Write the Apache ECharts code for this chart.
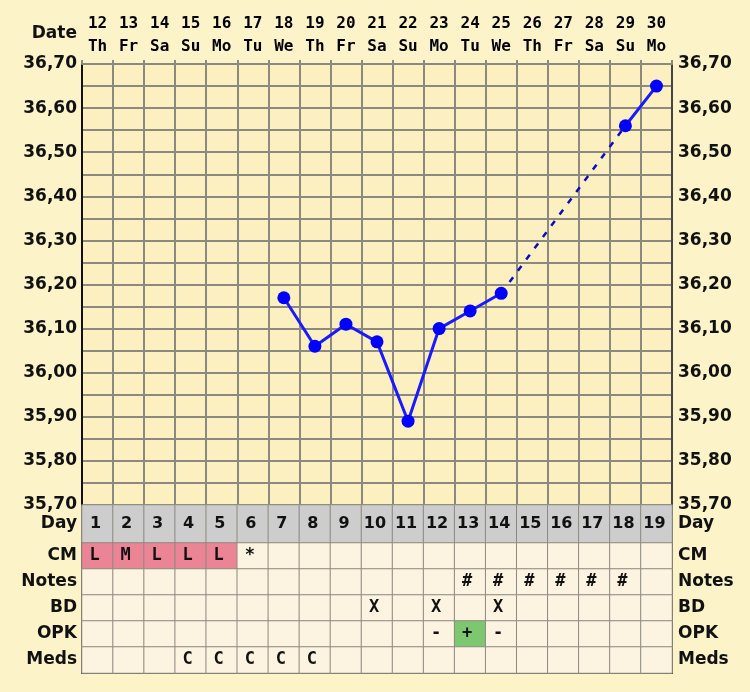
<!DOCTYPE html>
<html>
<head>
<meta charset="utf-8">
<script src="https://cdn.jsdelivr.net/npm/echarts@6/dist/echarts.min.js"></script>
<style>
html,body{margin:0;padding:0;background:#fcf3c9;}
#chart{width:750px;height:692px;}
</style>
</head>
<body>
<div id="chart"></div>
<script>
// ---- data ----
const dates = ['12','13','14','15','16','17','18','19','20','21','22','23','24','25','26','27','28','29','30'];
const weekdays = ['Th','Fr','Sa','Su','Mo','Tu','We','Th','Fr','Sa','Su','Mo','Tu','We','Th','Fr','Sa','Su','Mo'];
const cycleDays = ['1','2','3','4','5','6','7','8','9','10','11','12','13','14','15','16','17','18','19'];
const temps = [null,null,null,null,null,null,36.17,36.06,36.11,36.07,35.89,36.10,36.14,36.18,null,null,null,36.56,36.65];
const gapTemps = [null,null,null,null,null,null,null,null,null,null,null,null,null,36.18,null,null,null,36.56,null];
const yTicks = ['35,70','35,80','35,90','36,00','36,10','36,20','36,30','36,40','36,50','36,60','36,70'];
const rowNames = ['CM','Notes','BD','OPK','Meds'];
const cmRow    = ['L','M','L','L','L','*','','','','','','','','','','','','',''];
const notesRow = ['','','','','','','','','','','','','#','#','#','#','#','#',''];
const bdRow    = ['','','','','','','','','','X','','X','','X','','','','',''];
const opkRow   = ['','','','','','','','','','','','-','+','-','','','','',''];
const medsRow  = ['','','','C','C','C','C','C','','','','','','','','','','',''];
const cmFill   = ['pink','pink','pink','pink','pink','','','','','','','','','','','','','',''];
const opkFill  = ['','','','','','','','','','','','','green','','','','','',''];

// ---- build ----
const rows = [cmRow, notesRow, bdRow, opkRow, medsRow];
const fills = [cmFill, null, null, opkFill, null];
const fillColors = {pink:'#eb8494', green:'#7cc770', '':'#fdf3e1'};
const tableData = [];
rows.forEach((r, ri) => {
  r.forEach((t, ci) => {
    const f = fills[ri] ? fills[ri][ci] : '';
    tableData.push({value:[ci, ri, 1], itemStyle:{color: fillColors[f]}});
  });
});
const dayData = cycleDays.map((d, i) => ({value:[i, 0, 1], itemStyle:{color:'#cdcdcd'}}));

const gridLine = '#8c8a80';
const bold17 = {fontFamily:'DejaVu Sans', fontWeight:'bold', fontSize:17, color:'#111'};
const L = 82, R = 78;

const chart = echarts.init(document.getElementById('chart'));
chart.setOption({
  backgroundColor:'#fcf3c9',
  animation:false,
  graphic:[{type:'text', x:77, y:34, style:{text:'Date', fill:'#111', font:'bold 17px "DejaVu Sans"', align:'right', verticalAlign:'middle'}}],
  grid:[
    {left:L, right:R, top:64, height:441, show:true, backgroundColor:'#fcf0c1', borderWidth:0},
    {left:L, right:R, top:505, height:38, show:true, backgroundColor:'#cdcdcd', borderColor:'#555', borderWidth:2},
    {left:L, right:R, top:543, height:130, show:true, backgroundColor:'#fdf3e1', borderColor:'#333', borderWidth:2}
  ],
  xAxis:[
    {gridIndex:0, type:'category', position:'top', data:dates, boundaryGap:true,
     axisLine:{lineStyle:{color:gridLine, width:2}},
     axisTick:{show:true, interval:0, length:4, lineStyle:{color:gridLine, width:2}},
     splitLine:{show:true, interval:0, lineStyle:{color:gridLine, width:2}},
     axisLabel:{interval:0, margin:6, formatter:(v, i) => v + '\n' + weekdays[i],
       fontFamily:'DejaVu Sans Mono', fontWeight:'bold', fontSize:16, lineHeight:23, color:'#000'}},
    {gridIndex:1, type:'category', data:cycleDays, axisLine:{show:false}, axisTick:{show:false}, axisLabel:{show:false}},
    {gridIndex:2, type:'category', data:cycleDays, axisLine:{show:false}, axisTick:{show:false}, axisLabel:{show:false}}
  ],
  yAxis:[
    {gridIndex:0, type:'value', min:35.7, max:36.7, interval:0.05, position:'left',
     axisLine:{show:true, lineStyle:{color:'#111', width:2}}, axisTick:{show:false},
     splitLine:{show:true, lineStyle:{color:gridLine, width:2}},
     axisLabel:Object.assign({margin:5, formatter:v => { const k = Math.round((v - 35.7) * 100); return k % 10 === 0 ? yTicks[k / 10] : ''; }}, bold17)},
    {gridIndex:0, type:'value', min:35.7, max:36.7, interval:0.05, position:'right',
     axisLine:{show:true, lineStyle:{color:'#444', width:2}}, axisTick:{show:false}, splitLine:{show:false},
     axisLabel:Object.assign({margin:6, formatter:v => { const k = Math.round((v - 35.7) * 100); return k % 10 === 0 ? yTicks[k / 10] : ''; }}, bold17)},
    {gridIndex:1, type:'category', data:['Day'], position:'left', axisLine:{show:false}, axisTick:{show:false},
     axisLabel:Object.assign({margin:5}, bold17)},
    {gridIndex:1, type:'category', data:['Day'], position:'right', axisLine:{show:false}, axisTick:{show:false},
     axisLabel:Object.assign({margin:6}, bold17)},
    {gridIndex:2, type:'category', data:rowNames, inverse:true, position:'left', axisLine:{show:false}, axisTick:{show:false},
     axisLabel:Object.assign({margin:5}, bold17)},
    {gridIndex:2, type:'category', data:rowNames, inverse:true, position:'right', axisLine:{show:false}, axisTick:{show:false},
     axisLabel:Object.assign({margin:6}, bold17)}
  ],
  series:[
    {type:'line', xAxisIndex:0, yAxisIndex:0, data:gapTemps, connectNulls:true, symbol:'none',
     lineStyle:{color:'#0c0cc0', width:2.5, type:[6,8]}, z:3},
    {type:'line', xAxisIndex:0, yAxisIndex:0, data:temps, connectNulls:false, symbol:'circle', symbolSize:13,
     itemStyle:{color:'#0000ff'}, lineStyle:{color:'#1a1aff', width:3}, z:4},
    {type:'heatmap', xAxisIndex:1, yAxisIndex:2, data:dayData,
     itemStyle:{borderColor:gridLine, borderWidth:1},
     label:{show:true, offset:[-2,0], formatter:p => cycleDays[p.value[0]],
       fontFamily:'DejaVu Sans', fontWeight:'bold', fontSize:16, color:'#111'},
     emphasis:{disabled:true}},
    {type:'heatmap', xAxisIndex:2, yAxisIndex:4, data:tableData,
     itemStyle:{borderColor:gridLine, borderWidth:1},
     label:{show:true, offset:[-3,0], formatter:p => rows[p.value[1]][p.value[0]],
       fontFamily:'DejaVu Sans Mono', fontWeight:'bold', fontSize:17, color:'#111'},
     emphasis:{disabled:true}}
  ]
});
</script>
</body>
</html>
